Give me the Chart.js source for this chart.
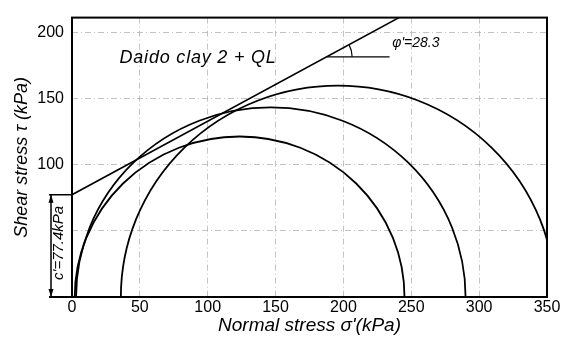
<!DOCTYPE html>
<html>
<head>
<meta charset="utf-8">
<script src="https://cdn.jsdelivr.net/npm/chart.js@4/dist/chart.umd.min.js"></script>
<style>
html, body { margin: 0; padding: 0; background: #fff; }
</style>
</head>
<body>
<canvas id="myChart" width="563" height="338"></canvas>
<script>
// tick labels
const xTicks = [0, 50, 100, 150, 200, 250, 300, 350];
const yTickLabels = [100, 150, 200];

// Mohr circles: minor and major principal stress (kPa)
const sigma3 = [2, 3, 36];
const sigma1 = [245, 290, 356];

// failure envelope
const envelopeSigma = [0, 241];
const envelopeTau = [77.4, 211.5];
const cohesion = 77.4;

const chartTitle = 'Daido clay 2 + QL';
const phiText = "\u03c6'=28.3";
const cText = "c'=77.4kPa";

const FONT = "'Liberation Sans', Arial, sans-serif";

const arcsPlugin = {
    id: 'arcs',
    beforeDatasetsDraw(chart) {
        const { ctx, chartArea: a, scales: { x, y } } = chart;
        ctx.save();
        ctx.beginPath();
        ctx.rect(a.left, a.top, a.right - a.left, a.bottom - a.top);
        ctx.clip();
        ctx.strokeStyle = '#000';
        ctx.lineWidth = 1.8;
        for (let i = 0; i < sigma3.length; i++) {
            const c = (sigma3[i] + sigma1[i]) / 2, r = (sigma1[i] - sigma3[i]) / 2;
            const cx = x.getPixelForValue(c), cy = y.getPixelForValue(0);
            const rx = x.getPixelForValue(sigma1[i]) - cx;
            const ry = cy - y.getPixelForValue(r);
            ctx.beginPath();
            ctx.ellipse(cx, cy, rx, ry, 0, Math.PI, 2 * Math.PI);
            ctx.stroke();
        }
        ctx.restore();
    }
};

const framePlugin = {
    id: 'frame',
    afterDraw(chart) {
        const { ctx, chartArea: a, scales: { x, y } } = chart;
        ctx.save();
        ctx.strokeStyle = '#000';
        ctx.lineWidth = 2;
        ctx.strokeRect(a.left, a.top, a.right - a.left, a.bottom - a.top);

        // c' marker left of the axis
        const yc = y.getPixelForValue(cohesion), y0 = y.getPixelForValue(0);
        const xa = 51;
        ctx.beginPath();
        ctx.moveTo(a.left, y0); ctx.lineTo(xa - 2, y0);
        ctx.stroke();
        ctx.lineWidth = 1.5;
        ctx.beginPath();
        ctx.moveTo(a.left, yc); ctx.lineTo(xa - 2, yc);
        ctx.moveTo(xa, yc); ctx.lineTo(xa, y0);
        ctx.stroke();
        ctx.fillStyle = '#000';
        ctx.beginPath();
        ctx.moveTo(xa, yc); ctx.lineTo(xa - 2.5, yc + 8); ctx.lineTo(xa + 2.5, yc + 8); ctx.closePath();
        ctx.moveTo(xa, y0); ctx.lineTo(xa - 2.5, y0 - 8); ctx.lineTo(xa + 2.5, y0 - 8); ctx.closePath();
        ctx.fill();

        ctx.save();
        ctx.translate(58.5, (yc + y0) / 2 - 3);
        ctx.rotate(-Math.PI / 2);
        ctx.font = 'italic 15px ' + FONT;
        ctx.textAlign = 'center';
        ctx.textBaseline = 'middle';
        ctx.fillText(cText, 0, 0);
        ctx.restore();

        // title text
        ctx.font = 'italic 18px ' + FONT;
        ctx.letterSpacing = '0.8px';
        ctx.textAlign = 'left';
        ctx.textBaseline = 'middle';
        ctx.fillText(chartTitle, x.getPixelForValue(35), y.getPixelForValue(181));
        ctx.letterSpacing = '0px';

        // phi' angle marker
        const px = x.getPixelForValue(188), py = y.getPixelForValue(181.8);
        const ex = x.getPixelForValue(envelopeSigma[1]), ey = y.getPixelForValue(envelopeTau[1]);
        const ang = Math.atan2(ey - py, ex - px);
        ctx.lineWidth = 1.2;
        ctx.beginPath();
        ctx.moveTo(px, py); ctx.lineTo(x.getPixelForValue(234), py);
        ctx.stroke();
        ctx.beginPath();
        ctx.arc(px, py, 25, ang, 0);
        ctx.stroke();
        ctx.font = 'italic 14px ' + FONT;
        ctx.fillText(phiText, x.getPixelForValue(236), y.getPixelForValue(192.5));
        ctx.restore();
    }
};

const ctx = document.getElementById('myChart').getContext('2d');
window.myChart = new Chart(ctx, {
    type: 'scatter',
    data: {
        datasets: [{
            label: 'Envelope',
            data: envelopeSigma.map((s, i) => ({ x: s, y: envelopeTau[i] })),
            showLine: true,
            borderColor: '#000',
            borderWidth: 1.6,
            pointRadius: 0
        }]
    },
    options: {
        responsive: false,
        animation: false,
        layout: { padding: { top: 15, right: 16 } },
        plugins: { legend: { display: false }, tooltip: { enabled: false } },
        scales: {
            x: {
                type: 'linear',
                min: 0,
                max: 350,
                afterBuildTicks: s => { s.ticks = xTicks.map(v => ({ value: v })); },
                afterFit: s => { s.height = 41; },
                grid: { color: '#b4b4b4', lineWidth: 0.8, drawTicks: false },
                border: { display: false, dash: [6, 3, 1, 3] },
                ticks: { color: '#000', padding: 1, font: { family: FONT, size: 16 } },
                title: {
                    display: true,
                    text: "Normal stress \u03c3'(kPa)",
                    color: '#000',
                    padding: { top: 0, bottom: 1 },
                    font: { family: FONT, size: 19, style: 'italic' }
                }
            },
            y: {
                min: 0,
                max: 211.5,
                afterBuildTicks: s => { s.ticks = [0, 50, 100, 150, 200].map(v => ({ value: v })); },
                afterFit: s => { s.width = 72; },
                grid: { color: '#b4b4b4', lineWidth: 0.8, drawTicks: false },
                border: { display: false, dash: [6, 3, 1, 3] },
                ticks: {
                    color: '#000',
                    padding: 8,
                    font: { family: FONT, size: 16 },
                    callback: v => yTickLabels.includes(v) ? String(v) : ''
                },
                title: {
                    display: true,
                    text: 'Shear stress \u03c4 (kPa)',
                    color: '#000',
                    padding: { top: 11, bottom: 0 },
                    font: { family: FONT, size: 18, style: 'italic' }
                }
            }
        }
    },
    plugins: [arcsPlugin, framePlugin]
});
</script>
</body>
</html>
